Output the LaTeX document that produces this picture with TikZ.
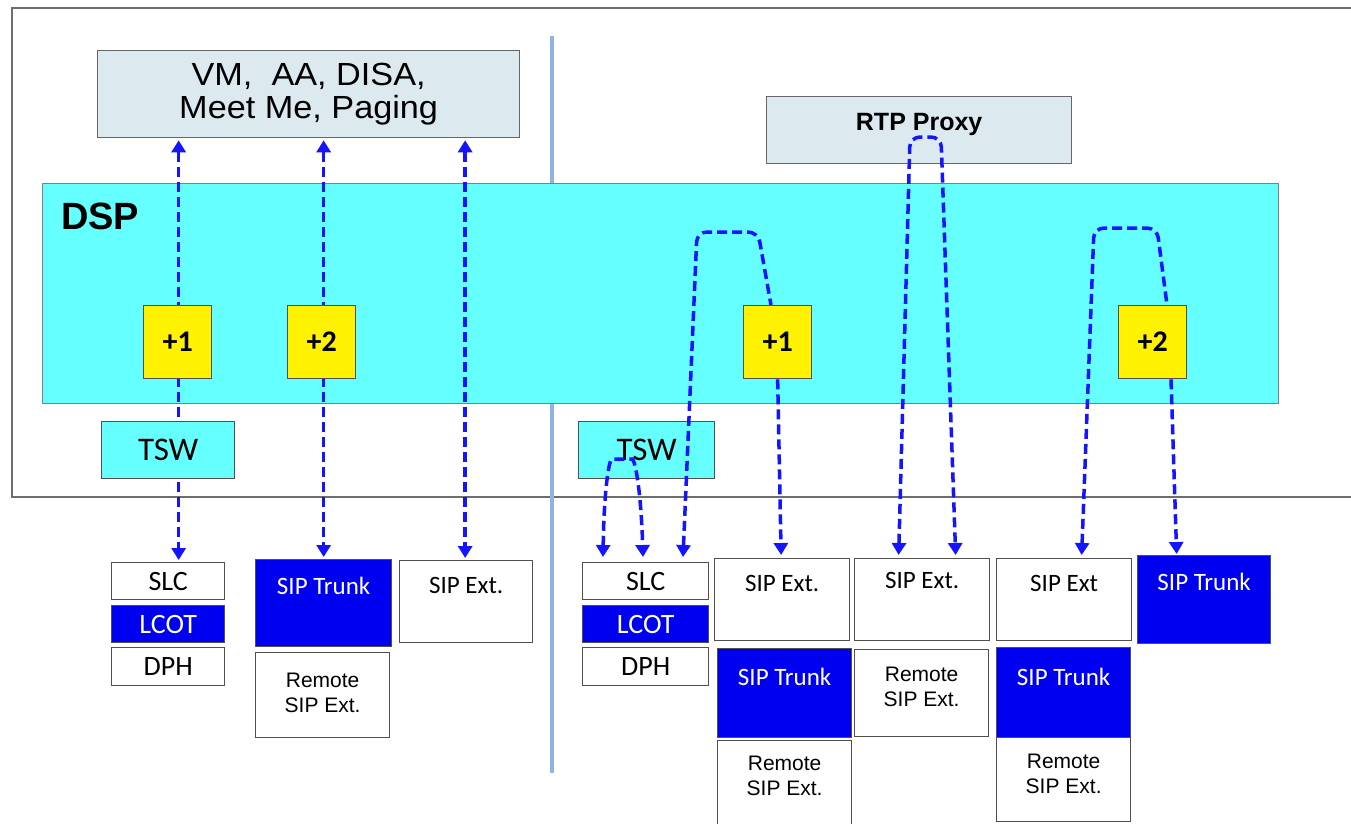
\documentclass[tikz,border=0pt]{standalone}
\usepackage{fontspec}
\setmainfont{Liberation Sans}
\newfontfamily\calib{Carlito}
\usetikzlibrary{arrows.meta,calc}
\pgfdeclarelayer{back}
\pgfdeclarelayer{mid}
\pgfsetlayers{back,mid,main}
\definecolor{cyanbox}{RGB}{102,255,255}
\definecolor{svcfill}{RGB}{220,234,240}
\definecolor{dblue}{RGB}{0,0,240}
\definecolor{sepline}{RGB}{143,180,227}
\definecolor{linkblue}{RGB}{20,20,255}
\definecolor{framegray}{RGB}{110,110,110}
\definecolor{bordergray}{RGB}{80,80,80}
\newcommand{\sx}[1]{\scalebox{1.07}[1]{#1}}
\tikzset{
  bx/.style={draw=bordergray, line width=1.3pt, inner sep=0pt, anchor=north west, align=center},
  wbox/.style={bx, fill=white, text=black},
  bbox/.style={bx, fill=dblue, text=white},
  ybox/.style={bx, fill=yellow, minimum width=68pt, minimum height=73pt, font=\calib\bfseries\fontsize{30}{30}\selectfont},
  cbox/.style={bx, fill=cyanbox},
  cal/.style={font=\calib\fontsize{25}{25}\selectfont},
  calbig/.style={font=\calib\fontsize{28}{28}\selectfont},
  ari/.style={font=\fontsize{21}{25}\selectfont},
  txt/.style={inner sep=0pt, align=center},
  link/.style={draw=linkblue, line width=3.5pt, dash pattern=on 10pt off 5pt, rounded corners=10pt, >={Triangle[length=12pt,width=14pt]}},
}
\begin{document}
\begin{tikzpicture}[x=1pt,y=-1pt]
\useasboundingbox (0,0) rectangle (1351,823);
\begin{pgfonlayer}{back}
\fill[white] (0,0) rectangle (1351,823);
\draw[framegray, line width=1.5pt] (1352,8) -- (12,8) -- (12,497) -- (1352,497);
\draw[sepline, line width=4pt] (552,36) -- (552,773);
\node[bx, draw=gray, fill=cyanbox, minimum width=1236pt, minimum height=220pt] (dsp) at (42,183) {};
\node[bx, draw=gray!80!black, fill=svcfill, minimum width=305pt, minimum height=67pt, text height=34pt, text depth=33pt, font=\bfseries\fontsize{25}{25}\selectfont] (rtp) at (766,96) {RTP Proxy};
\node[cbox, minimum width=136pt, minimum height=57pt, font=\calib\fontsize{33}{33}\selectfont] (tswR) at (578,421) {TSW};
\end{pgfonlayer}
\node[anchor=base west, inner sep=0pt, font=\bfseries\fontsize{38}{38}\selectfont] (dsplabel) at (61,229) {DSP};
\node[bx, draw=gray!80!black, fill=svcfill, minimum width=422pt, minimum height=87pt, font=\fontsize{32}{33}\selectfont] (svc) at (97,50) {\sx{VM,\ \ AA, DISA,}\\\sx{Meet Me, Paging}};
% yellow boxes
\node[ybox] (p1L) at (143,305) {+1};
\node[ybox] (p2L) at (287,305) {+2};
\node[ybox] (p1R) at (743,305) {+1};
\node[ybox] (p2R) at (1118,305) {+2};
\node[cbox, minimum width=133pt, minimum height=57pt, font=\calib\fontsize{33}{33}\selectfont] (tswL) at (101,421) {TSW};
% left bottom
\node[wbox, calbig, minimum width=113pt, minimum height=37pt] (slcL) at (111,562) {SLC};
\node[bbox, calbig, minimum width=113pt, minimum height=37pt] (lcotL) at (111,605) {LCOT};
\node[wbox, calbig, minimum width=113pt, minimum height=38pt] (dphL) at (111,647) {DPH};
\node[bbox, cal, minimum width=136pt, minimum height=87pt, text height=35pt, text depth=52pt] (trunkL) at (255,559) {SIP Trunk};
\node[wbox, minimum width=134pt, minimum height=85pt] (remL) at (255,652) {};
\node[txt, ari] (remLt) at ($(remL)+(0,-2)$) {Remote\\SIP Ext.};
\node[wbox, cal, minimum width=133pt, minimum height=82pt, text height=33pt, text depth=49pt] (extL) at (399,560) {SIP Ext.};
% right bottom
\node[wbox, calbig, minimum width=126pt, minimum height=37pt] (slcR) at (582,562) {SLC};
\node[bbox, calbig, minimum width=126pt, minimum height=37pt] (lcotR) at (582,605) {LCOT};
\node[wbox, calbig, minimum width=126pt, minimum height=38pt] (dphR) at (582,647) {DPH};
\node[wbox, cal, minimum width=135pt, minimum height=82pt, text height=33pt, text depth=49pt] (extR1) at (714,558) {SIP Ext.};
\node[bbox, cal, minimum width=134pt, minimum height=89pt, text height=37pt, text depth=52pt] (trunkR1) at (717,648) {SIP Trunk};
\node[wbox, minimum width=134pt, minimum height=86pt] (remR1) at (717,740) {};
\node[txt, ari] (remR1t) at ($(remR1)+(0,-8)$) {Remote\\SIP Ext.};
\node[wbox, cal, minimum width=135pt, minimum height=82pt, text height=30pt, text depth=52pt] (extR2) at (854,558) {SIP Ext.};
\node[wbox, minimum width=134pt, minimum height=87pt] (remR2) at (854,649) {};
\node[txt, ari] (remR2t) at ($(remR2)+(0,-6)$) {Remote\\SIP Ext.};
\node[wbox, cal, minimum width=135pt, minimum height=82pt, text height=33pt, text depth=49pt] (extR3) at (996,558) {SIP Ext};
\node[bbox, cal, minimum width=134pt, minimum height=90pt, text height=38pt, text depth=52pt] (trunkR3) at (996,647) {SIP Trunk};
\node[wbox, minimum width=134pt, minimum height=84pt] (remR3) at (996,737) {};
\node[txt, ari] (remR3t) at ($(remR3)+(0,-6)$) {Remote\\SIP Ext.};
\node[bbox, cal, minimum width=133pt, minimum height=88pt, text height=35pt, text depth=53pt] (trunkR4) at (1137,555) {SIP Trunk};
% connectors
\begin{pgfonlayer}{mid}
\draw[link,<->] ($(svc.south -| p1L)+(1,2)$) -- ($(p1L |- slcL.north)+(1,-2)$);
\draw[link,<->] ($(svc.south -| p2L)+(2,2)$) -- ($(trunkL.north)+(0,-2)$);
\draw[link,<->] ($(svc.south -| extL)+(-1,2)$) -- ($(extL.north)+(-1,-2)$);
\draw[link,<->] ($(slcR.north west)+(21,-5)$) .. controls (604,490) and (609,459) .. (622,459) .. controls (635,459) and (641,490) .. ($(slcR.north west)+(61,-5)$);
\draw[link,<-] ($(slcR.north west)+(101,-5)$) -- (697,232) -- (758,232) -- ($(p1R.north west)+(28,0)$);
\draw[link,->] (p1R.south) -- ($(extR1.north)+(-1,-3)$);
\draw[link,<->] ($(extR2.north)+(-23.5,-3)$) -- (910,137) -- (941,137) -- ($(extR2.north)+(33.5,-3)$);
\draw[link,<-] ($(extR3.north)+(17.5,-3)$) -- (1094,228) -- (1157,228) -- ($(p2R.north west)+(49,0)$);
\draw[link,->] ($(p2R.south west)+(53,0)$) -- ($(trunkR4.north)+(-27.5,-1)$);
\end{pgfonlayer}
\end{tikzpicture}
\end{document}
